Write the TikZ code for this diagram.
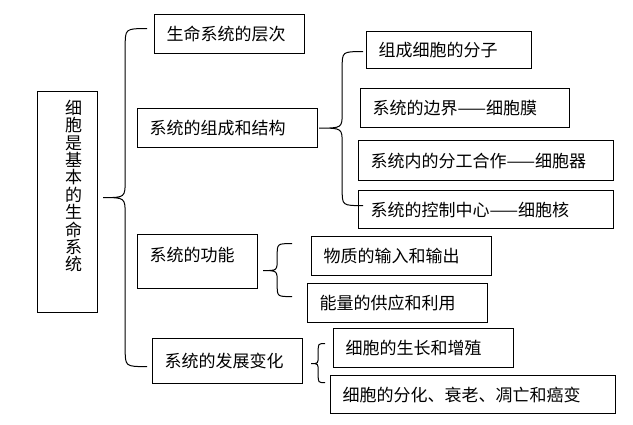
\documentclass[tikz,border=0pt]{standalone}
\usepackage{fontspec}
\setmainfont{Noto Sans CJK SC}
\usetikzlibrary{calc}
\newcommand\brc[5]{%
  \draw[brc] let \p1=(#1), \p2=(#2), \p3=(#3) in
    (\p2) .. controls (\x1+#4,\y2) .. (\x1+#4,\y2-#5)
    -- (\x1+#4,\y1+#5) .. controls (\x1+#4,\y1) .. (\p1)
    .. controls (\x1+#4,\y1) .. (\x1+#4,\y1-#5)
    -- (\x1+#4,\y3+#5) .. controls (\x1+#4,\y3) .. (\p3);
}

\begin{document}
\begin{tikzpicture}
[x=1pt, y=-1pt, font=\fontsize{17}{17.4}\selectfont,
 box/.code 2 args={\pgfmathsetlengthmacro\bxtw{#1-24pt}%
   \tikzset{draw, line width=1.2pt, anchor=north west, inner xsep=12pt, inner ysep=0pt,
     align=left, text width=\bxtw, minimum width=#1, minimum height=#2}},
 mainbox/.style={draw, line width=1.2pt, anchor=north west, inner sep=0pt,
   minimum width=60pt, minimum height=221pt, text width=29pt, align=right, text depth=190pt},
 brc/.style={line width=1pt}]
\useasboundingbox (0,0) rectangle (633,425);
\node[mainbox] (m) at (37,91) {细\\胞\\是\\基\\本\\的\\生\\命\\系\\统};
% first level
\node[box={150pt}{39pt}] (b1) at (154,14)  {生命系统的层次};
\node[box={180pt}{39pt}] (b2) at (137,108) {系统的组成和结构};
\node[box={120pt}{54pt}, text depth=14pt] (b3) at (137,234) {系统的功能};
\node[box={150pt}{45pt}] (b4) at (152,338) {系统的发展变化};
% second level
\node[box={165pt}{37pt}] (c1) at (366,31)  {组成细胞的分子};
\node[box={209pt}{39pt}] (c2) at (360,88)  {系统的边界——细胞膜};
\node[box={255pt}{40pt}] (c3) at (358,140) {系统内的分工合作——细胞器};
\node[box={255pt}{38pt}] (c4) at (358,190) {系统的控制中心——细胞核};
\node[box={180pt}{39pt}] (d1) at (311,236) {物质的输入和输出};
\node[box={180pt}{39pt}] (d2) at (307,283) {能量的供应和利用};
\node[box={180pt}{39pt}] (e1) at (333,328) {细胞的生长和增殖};
\node[box={285pt}{38pt}] (e2) at (330,375) {细胞的分化、衰老、凋亡和癌变};
% brace ends
\coordinate (m0) at ($(m.east)+(5,-4.5)$);
\coordinate (m1) at ($(b1.west)+(-7,-5.5)$);
\coordinate (m4) at ($(b4.west)+(-5,5.5)$);
\coordinate (s0) at ($(b2.east)+(1,0)$);
\coordinate (s1) at ($(c1.west)+(-3,1.5)$);
\coordinate (s4) at ($(c4.west)+(5,-4)$);
\coordinate (f0) at ($(b3.east)+(5,9)$);
\coordinate (f1) at ($(d1.west)+(-19,-12.5)$);
\coordinate (f2) at ($(d2.west)+(-15,-6.5)$);
\coordinate (g0) at ($(b4.east)+(8,2.5)$);
\coordinate (g1) at ($(e1.west)+(-8,-4.5)$);
\coordinate (g2) at ($(e2.west)+(-5,-12)$);
\brc{m0}{m1}{m4}{22pt}{18pt}
\brc{s0}{s1}{s4}{23pt}{16pt}
\brc{f0}{f1}{f2}{14pt}{12pt}
\brc{g0}{g1}{g2}{7pt}{8pt}
\end{tikzpicture}
\end{document}
